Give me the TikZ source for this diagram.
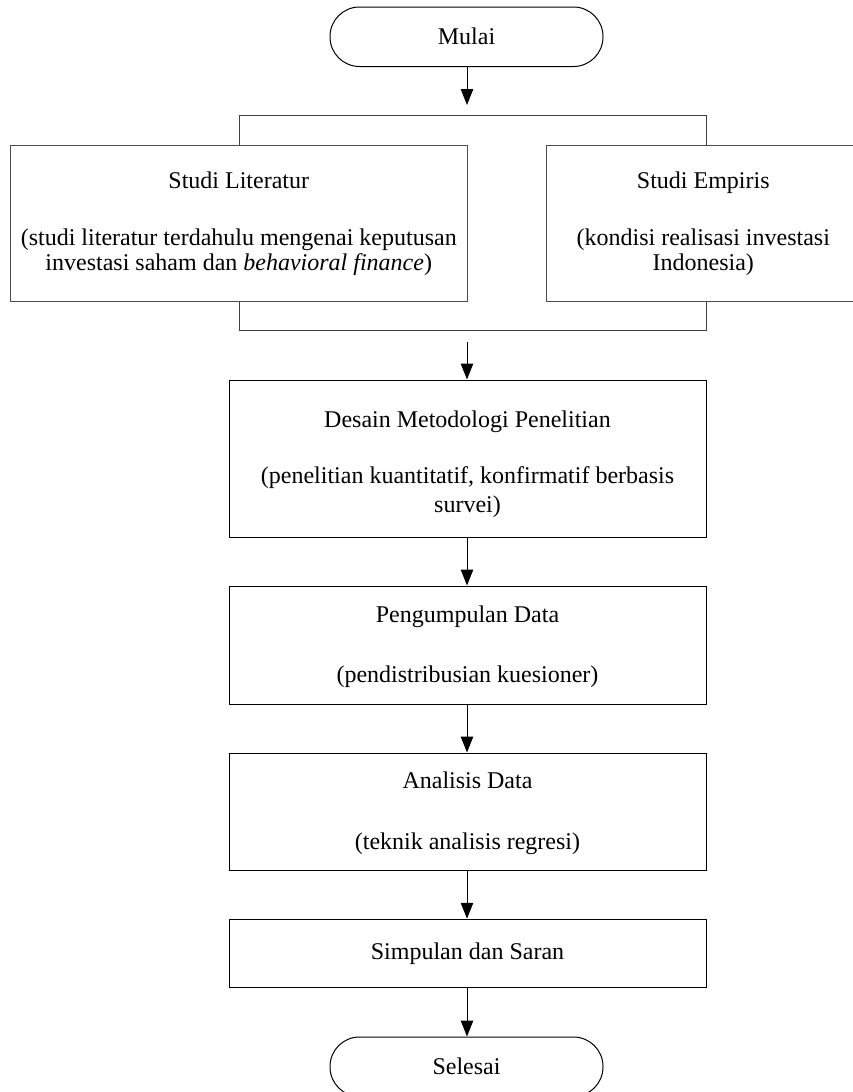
\documentclass[tikz,border=0pt]{standalone}
\usepackage{fontspec}
\setmainfont{Liberation Serif}
\usetikzlibrary{arrows.meta}
\tikzset{
  boxstyle/.style={draw=black, line width=1pt, inner sep=0pt, align=center},
  sidebox/.style={draw=black!70, line width=1pt, inner sep=0pt, align=center},
  termstyle/.style={draw=black, line width=1pt, inner sep=0pt, align=center,
    rounded corners=29.5pt, minimum width=273pt, minimum height=59.5pt},
  flow/.style={draw=black, line width=1pt, -{Triangle[length=16pt,width=12.5pt]}},
  brack/.style={draw=black!75, line width=1pt}
}
\begin{document}
\begin{tikzpicture}[x=1pt, y=-1pt, font=\fontsize{24}{26}\selectfont]
\useasboundingbox (0,0) rectangle (853,1092);
\node[termstyle] (mulai) at (466.5,36.75) {Mulai};
\node[sidebox, minimum width=456.5pt, minimum height=156.5pt] (lit) at (238.75,223.25)
  {Studi Literatur\\[31pt](studi literatur terdahulu mengenai keputusan\\[-1pt]investasi saham dan \textit{behavioral finance})};
\node[sidebox, minimum width=313pt, minimum height=156.5pt] (emp) at (703.3,223.25)
  {Studi Empiris\\[31pt](kondisi realisasi investasi\\[-1pt]Indonesia)};
\node[boxstyle, minimum width=477pt, minimum height=157pt] (desain) at (467.5,458.5)
  {\rule{0pt}{28.5pt}Desain Metodologi Penelitian\\[30pt](penelitian kuantitatif, konfirmatif berbasis\\[3pt]survei)};
\node[boxstyle, minimum width=477pt, minimum height=118pt] (kumpul) at (467.5,645)
  {\rule{0pt}{20pt}Pengumpulan Data\\[34pt](pendistribusian kuesioner)};
\node[boxstyle, minimum width=477pt, minimum height=117pt] (analisis) at (467.5,811.5)
  {\rule{0pt}{20pt}Analisis Data\\[35pt](teknik analisis regresi)};
\node[boxstyle, minimum width=477pt, minimum height=68.5pt] (simpul) at (467.5,953.5)
  {Simpulan dan Saran};
\node[termstyle] (selesai) at (466.5,1066.75) {Selesai};
% bracket coordinates
\coordinate (tl) at (239,115);
\coordinate (tr) at (706,115);
\coordinate (bl) at (239,330);
\coordinate (br) at (706,330);
\draw[brack] (lit.north -| tl) -- (tl) -- (tr) -- (emp.north -| tr);
\draw[brack] (lit.south -| bl) -- (bl) -- (br) -- (emp.south -| br);
% arrows
\coordinate (a1) at (467,105);
\coordinate (a2) at (467,342);
\draw[flow] (mulai.south -| a1) -- (a1);
\draw[flow] (a2) -- (desain.north -| a2);
\draw[flow] (desain.south -| a2) -- (kumpul.north -| a2);
\draw[flow] (kumpul.south -| a2) -- (analisis.north -| a2);
\draw[flow] (analisis.south -| a2) -- (simpul.north -| a2);
\draw[flow] (simpul.south -| a2) -- (selesai.north -| a2);
\end{tikzpicture}
\end{document}
